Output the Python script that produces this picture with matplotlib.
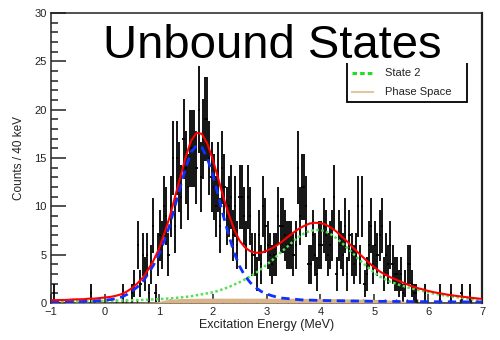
import numpy as np
import matplotlib
matplotlib.use("Agg")
import matplotlib.pyplot as plt
from matplotlib.lines import Line2D
from matplotlib.patches import Rectangle
from matplotlib.ticker import MultipleLocator

plt.rcParams['font.family'] = ['Liberation Sans', 'DejaVu Sans']

# Excitation energy histogram: 200 bins of 40 keV from -1 to 7 MeV
bin_lo = -1.0
bin_w = 0.04
counts = [
    # -1 .. 0 MeV
    0, 1, 0, 0, 0, 0, 0, 0, 0, 0, 0, 0, 0, 0, 0, 0, 0, 0, 1, 0, 0, 0, 0, 0, 0,
    # 0 .. 1 MeV
    0, 0, 0, 0, 0, 0, 0, 0, 1, 0, 0, 0, 1, 2, 0, 6, 2, 5, 3, 5, 1, 4, 8, 1, 5,
    # 1 .. 2 MeV
    7, 6, 10, 9, 5, 10, 15, 8, 15, 13, 11, 17, 14, 12, 16, 16, 16, 14, 20, 13, 17, 19, 19, 15, 13,
    # 2 .. 3 MeV
    12, 10, 13, 8, 14, 12, 9, 10, 11, 7, 10, 6, 11, 11, 9, 6, 11, 9, 5, 5, 3, 7, 4, 10, 8,
    # 3 .. 4 MeV
    6, 5, 4, 5, 5, 9, 8, 8, 7, 6, 6, 6, 5, 6, 14, 9, 12, 12, 10, 4, 4, 7, 5, 3, 6,
    # 4 .. 5 MeV
    6, 8, 7, 5, 6, 7, 11, 3, 7, 6, 5, 8, 3, 7, 5, 4, 5, 10, 4, 10, 2, 3, 6, 8, 4,
    # 5 .. 6 MeV
    6, 5, 7, 8, 3, 5, 4, 6, 4, 3, 3, 2, 3, 1, 2, 4, 4, 2, 1, 1, 0, 0, 0, 1, 0,
    # 6 .. 7 MeV
    0, 0, 0, 0, 0, 1, 0, 0, 0, 0, 1, 0, 0, 0, 0, 1, 0, 0, 0, 1, 0, 0, 0, 0, 0,
]

# Fit components sampled every 100 keV from -1 to 7 MeV
fit_e = np.linspace(-1.0, 7.0, 81)
state1 = [
    0.1, 0.1, 0.1, 0.1, 0.15, 0.15, 0.15, 0.2, 0.2, 0.25,
    0.3, 0.35, 0.45, 0.6, 0.85, 1.2, 1.65, 2.2, 3.0, 3.9,
    5.0, 6.4, 8.0, 10.0, 12.0, 14.0, 15.6, 16.3, 16.1, 15.0,
    13.3, 11.2, 9.0, 7.0, 5.2, 3.8, 2.8, 2.1, 1.6, 1.2,
    0.95, 0.75, 0.6, 0.5, 0.45, 0.4, 0.35, 0.3, 0.3, 0.28,
    0.26, 0.25, 0.24, 0.23, 0.22, 0.21, 0.2, 0.2, 0.19, 0.18,
    0.18, 0.17, 0.17, 0.16, 0.16, 0.15, 0.15, 0.15, 0.14, 0.14,
    0.14, 0.13, 0.13, 0.13, 0.12, 0.12, 0.12, 0.12, 0.11, 0.11, 0.11,
]
state2 = [
    0.15, 0.15, 0.16, 0.17, 0.17, 0.18, 0.19, 0.2, 0.2, 0.21,
    0.22, 0.23, 0.24, 0.25, 0.26, 0.28, 0.3, 0.32, 0.34, 0.37,
    0.4, 0.43, 0.47, 0.52, 0.57, 0.63, 0.7, 0.8, 0.9, 1.0,
    1.1, 1.25, 1.45, 1.65, 1.9, 2.15, 2.45, 2.75, 3.1, 3.5,
    3.95, 4.4, 4.9, 5.4, 5.9, 6.4, 6.85, 7.2, 7.45, 7.55,
    7.55, 7.4, 7.1, 6.7, 6.2, 5.7, 5.15, 4.6, 4.1, 3.6,
    3.15, 2.75, 2.45, 2.2, 2.0, 1.82, 1.65, 1.5, 1.37, 1.25,
    1.1, 0.98, 0.88, 0.78, 0.7, 0.62, 0.55, 0.48, 0.42, 0.36, 0.3,
]
phase_space = [
    0.05, 0.05, 0.05, 0.05, 0.05, 0.05, 0.05, 0.05, 0.05, 0.05,
    0.05, 0.05, 0.05, 0.05, 0.05, 0.05, 0.06, 0.07, 0.08, 0.1,
    0.15, 0.3, 0.38, 0.42, 0.45, 0.47, 0.48, 0.49, 0.5, 0.5,
    0.5, 0.5, 0.5, 0.5, 0.5, 0.5, 0.5, 0.5, 0.5, 0.5,
    0.5, 0.5, 0.5, 0.5, 0.49, 0.49, 0.48, 0.48, 0.47, 0.47,
    0.46, 0.46, 0.45, 0.45, 0.44, 0.43, 0.42, 0.41, 0.4, 0.39,
    0.37, 0.35, 0.33, 0.3, 0.27, 0.22, 0.15, 0.08, 0.04, 0.02,
    0.01, 0.01, 0.01, 0.01, 0.01, 0.01, 0.01, 0.01, 0.01, 0.01, 0.01,
]

legend_labels = ["State 2", "Phase Space"]

W, H = 500, 340


def fx(px):
    return px / W


def fy(py):
    return 1 - py / H


def main():
    counts_arr = np.array(counts, dtype=float)
    centers = bin_lo + bin_w * (np.arange(len(counts_arr)) + 0.5)
    filled = counts_arr > 0
    s1 = np.array(state1)
    s2 = np.array(state2)
    ps = np.array(phase_space)
    total = s1 + s2 + ps

    fig = plt.figure(figsize=(5, 3.4), dpi=100)
    ax = fig.add_axes([fx(51), fy(303), (482 - 51) / W, (303 - 13) / H])

    ax.errorbar(centers[filled], counts_arr[filled],
                yerr=np.sqrt(counts_arr[filled]), xerr=bin_w / 2,
                fmt='none', ecolor='black', elinewidth=1.3, capsize=0, zorder=2)

    ax.fill_between(fit_e, 0, ps, color='#d9b48a', lw=0, zorder=3)
    ax.plot(fit_e, s2, color='#55e055', lw=1.8, ls=(0, (1, 1)), zorder=4)
    ax.plot(fit_e, s1, color='#1030ff', lw=2.0, ls=(0, (3, 2)), zorder=5)
    ax.plot(fit_e, total, color='#ff0000', lw=1.5, zorder=6)

    ax.set_xlim(-1, 7)
    ax.set_ylim(0, 30)
    ax.xaxis.set_major_locator(MultipleLocator(1))
    ax.xaxis.set_minor_locator(MultipleLocator(0.2))
    ax.yaxis.set_major_locator(MultipleLocator(5))
    ax.yaxis.set_minor_locator(MultipleLocator(1))
    ax.tick_params(which='both', direction='in', top=False, right=False,
                   labelsize=8, colors='#222222')
    ax.tick_params(axis='y', which='major', length=10.5, width=1.1, pad=3)
    ax.tick_params(axis='y', which='minor', length=5, width=1.1)
    ax.tick_params(axis='x', which='major', length=6.5, width=1.1, pad=3)
    ax.tick_params(axis='x', which='minor', length=3.2, width=1.0)
    for sp in ax.spines.values():
        sp.set_linewidth(1.1)
        sp.set_color('#222222')
    ax.spines['right'].set_linewidth(1.6)

    fig.text(fx(267), fy(325), "Excitation Energy (MeV)", ha='center', va='center',
             fontsize=9, color='#222222')
    fig.text(fx(19), fy(158), "Counts / 40 keV", ha='center', va='center',
             rotation=90, fontsize=8.5, color='#222222')

    # legend box (top edge sits under the title banner)
    fig.patches.append(Rectangle((fx(347), fy(102)), (467 - 347) / W, (102 - 40) / H,
                                 transform=fig.transFigure, facecolor='white',
                                 edgecolor='black', lw=1.3, zorder=5))
    fig.lines.append(Line2D([fx(352), fx(373)], [fy(73), fy(73)], transform=fig.transFigure,
                            color='#22dd22', lw=2.2, ls=(0, (1.5, 1)), zorder=6))
    fig.lines.append(Line2D([fx(352), fx(373)], [fy(92), fy(92)], transform=fig.transFigure,
                            color='#e2c6a0', lw=1.5, zorder=6))
    fig.text(fx(385), fy(73), legend_labels[0], ha='left', va='center', fontsize=8,
             color='#222222', zorder=6)
    fig.text(fx(385), fy(92), legend_labels[1], ha='left', va='center', fontsize=8,
             color='#222222', zorder=6)

    # title banner
    fig.patches.append(Rectangle((fx(92), fy(63)), (474 - 92) / W, (63 - 16) / H,
                                 transform=fig.transFigure, facecolor='white',
                                 edgecolor='none', zorder=7))
    fig.text(fx(272), fy(58), "Unbound States", ha='center', va='baseline',
             fontsize=34, color='black', zorder=8)

    fig.savefig("out.png", dpi=100)
    plt.close(fig)


if __name__ == "__main__":
    main()
